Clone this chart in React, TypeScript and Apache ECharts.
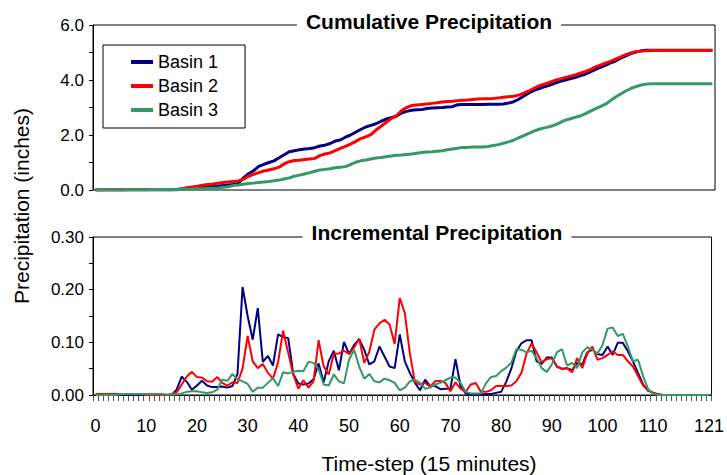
import React, { useEffect, useRef } from "react";
import * as echarts from "echarts";

// ---- data ----
const timeSteps: string[] = Array.from({ length: 122 }, (_, i) => String(i));
const xTickLabels: number[] = [0, 10, 20, 30, 40, 50, 60, 70, 80, 90, 100, 110, 121];
const seriesNames = ["Basin 1", "Basin 2", "Basin 3"];

const cumBasin1 = [
  0, 0, 0, 0, 0, 0, 0, 0, 0, 0, 0, 0, 0, 0, 0, 0,
  0.01, 0.04, 0.07, 0.08, 0.09, 0.11, 0.12, 0.13, 0.15, 0.16, 0.18, 0.2, 0.24, 0.44, 0.59, 0.7, 0.86, 0.93, 1.0, 1.06, 1.17, 1.28, 1.39, 1.43, 1.46,
  1.49, 1.51, 1.54, 1.6, 1.63, 1.69, 1.78, 1.82, 1.92, 2.0, 2.1, 2.2, 2.29, 2.35, 2.41, 2.5, 2.58, 2.63, 2.68, 2.8, 2.86, 2.9, 2.92, 2.93, 2.96, 2.98, 2.99, 3.0, 3.02, 3.03, 3.1, 3.11, 3.11, 3.11, 3.11, 3.11, 3.12, 3.12, 3.12, 3.13,
  3.16, 3.21, 3.3, 3.42, 3.53, 3.62, 3.69, 3.75, 3.81, 3.88, 3.94, 3.99, 4.04, 4.09, 4.15, 4.21, 4.29, 4.38, 4.46, 4.53, 4.62, 4.69, 4.79, 4.88, 4.96, 5.02, 5.06, 5.08, 5.08, 5.08,
  5.08, 5.08, 5.08, 5.08, 5.08, 5.08, 5.08, 5.08, 5.08, 5.08, 5.08,
];
const cumBasin2 = [
  0, 0, 0.01, 0.01, 0.01, 0.01, 0.01, 0.02, 0.02, 0.02, 0.02, 0.02, 0.02, 0.02, 0.02, 0.02,
  0.03, 0.05, 0.08, 0.11, 0.14, 0.17, 0.2, 0.22, 0.25, 0.27, 0.29, 0.31, 0.33, 0.39, 0.5, 0.57, 0.63, 0.69, 0.73, 0.77, 0.83, 0.95, 1.03, 1.07, 1.08,
  1.11, 1.13, 1.15, 1.25, 1.31, 1.35, 1.43, 1.51, 1.59, 1.67, 1.76, 1.87, 1.93, 2.01, 2.18, 2.32, 2.46, 2.6, 2.7, 2.88, 3.0, 3.07, 3.09, 3.11, 3.13, 3.15, 3.17, 3.2, 3.22, 3.23, 3.25, 3.26, 3.27, 3.29, 3.31, 3.32, 3.32, 3.33, 3.35, 3.37,
  3.39, 3.41, 3.45, 3.52, 3.6, 3.7, 3.79, 3.85, 3.91, 3.98, 4.03, 4.08, 4.13, 4.18, 4.25, 4.3, 4.38, 4.47, 4.54, 4.61, 4.68, 4.76, 4.84, 4.92, 4.98, 5.03, 5.05, 5.06, 5.07, 5.07,
  5.07, 5.07, 5.07, 5.07, 5.07, 5.07, 5.07, 5.07, 5.07, 5.07, 5.07,
];
const cumBasin3 = [
  0, 0, 0, 0, 0, 0, 0.01, 0.01, 0.01, 0.01, 0.01, 0.02, 0.02, 0.02, 0.02, 0.02,
  0.02, 0.03, 0.03, 0.04, 0.05, 0.05, 0.06, 0.06, 0.07, 0.1, 0.12, 0.16, 0.18, 0.21, 0.24, 0.25, 0.27, 0.29, 0.31, 0.34, 0.36, 0.4, 0.44, 0.5, 0.54,
  0.58, 0.63, 0.68, 0.73, 0.75, 0.77, 0.81, 0.83, 0.85, 0.92, 1.01, 1.06, 1.09, 1.13, 1.16, 1.18, 1.21, 1.24, 1.26, 1.27, 1.29, 1.31, 1.34, 1.36, 1.38, 1.39, 1.41, 1.43, 1.46, 1.49, 1.52, 1.55, 1.55, 1.56, 1.56, 1.56, 1.58, 1.62, 1.65, 1.7,
  1.75, 1.81, 1.9, 1.98, 2.06, 2.14, 2.21, 2.26, 2.3, 2.36, 2.44, 2.53, 2.58, 2.64, 2.69, 2.77, 2.86, 2.95, 3.03, 3.12, 3.25, 3.38, 3.49, 3.6, 3.69, 3.76, 3.82, 3.85, 3.86, 3.86,
  3.86, 3.86, 3.86, 3.86, 3.86, 3.86, 3.86, 3.86, 3.86, 3.86, 3.86,
];

const incBasin1 = [
  0, 0, 0, 0, 0, 0, 0, 0, 0, 0, 0, 0, 0, 0, 0, 0,
  0.01, 0.035, 0.025, 0.01, 0.018, 0.027, 0.018, 0.015, 0.015, 0.016, 0.014, 0.017, 0.04, 0.205, 0.15, 0.105, 0.165, 0.063, 0.074, 0.056, 0.115, 0.11, 0.108, 0.04, 0.022,
  0.02, 0.022, 0.03, 0.06, 0.024, 0.064, 0.084, 0.047, 0.101, 0.078, 0.095, 0.106, 0.086, 0.058, 0.064, 0.092, 0.073, 0.054, 0.051, 0.115, 0.064, 0.042, 0.023, 0.009, 0.029, 0.017, 0.017, 0.011, 0.012, 0.012, 0.068, 0.017, 0.003, 0.001, 0.001, 0.001, 0.002, 0.002, 0.004, 0.006,
  0.025, 0.05, 0.083, 0.098, 0.104, 0.104, 0.064, 0.059, 0.071, 0.071, 0.054, 0.05, 0.051, 0.047, 0.061, 0.058, 0.081, 0.086, 0.078, 0.076, 0.092, 0.076, 0.099, 0.099, 0.083, 0.064, 0.042, 0.02, 0.008, 0.004,
  0, 0, 0, 0, 0, 0, 0, 0, 0, 0, 0,
];
const incBasin2 = [
  0.002, 0.002, 0.002, 0.002, 0.002, 0.002, 0.002, 0.002, 0.002, 0.002, 0, 0, 0, 0, 0, 0.002,
  0.005, 0.02, 0.035, 0.044, 0.034, 0.033, 0.026, 0.025, 0.034, 0.023, 0.018, 0.024, 0.023, 0.05, 0.112, 0.064, 0.051, 0.059, 0.042, 0.031, 0.062, 0.122, 0.08, 0.039, 0.012,
  0.028, 0.014, 0.026, 0.104, 0.054, 0.039, 0.078, 0.079, 0.084, 0.078, 0.09, 0.107, 0.061, 0.082, 0.124, 0.136, 0.143, 0.134, 0.097, 0.184, 0.156, 0.079, 0.024, 0.02, 0.023, 0.016, 0.026, 0.027, 0.023, 0.007, 0.024, 0.012, 0.006, 0.02, 0.023, 0.006, 0.006, 0.009, 0.017, 0.017,
  0.017, 0.018, 0.026, 0.042, 0.078, 0.098, 0.081, 0.062, 0.068, 0.07, 0.054, 0.049, 0.051, 0.043, 0.07, 0.051, 0.079, 0.092, 0.067, 0.07, 0.076, 0.083, 0.076, 0.076, 0.064, 0.054, 0.036, 0.018, 0.009, 0.004, 0.002,
  0, 0, 0, 0, 0, 0, 0, 0, 0, 0,
];
const incBasin3 = [
  0, 0, 0, 0, 0, 0.002, 0.002, 0.002, 0.002, 0.002, 0.002, 0.002, 0.002, 0.002, 0.001, 0.001,
  0.001, 0.003, 0.006, 0.007, 0.007, 0.005, 0.004, 0.005, 0.01, 0.029, 0.027, 0.04, 0.03, 0.026, 0.021, 0.006, 0.014, 0.014, 0.023, 0.032, 0.017, 0.043, 0.041, 0.044, 0.046,
  0.045, 0.063, 0.061, 0.049, 0.02, 0.018, 0.039, 0.026, 0.022, 0.067, 0.086, 0.054, 0.031, 0.04, 0.026, 0.024, 0.031, 0.028, 0.023, 0.009, 0.014, 0.026, 0.029, 0.023, 0.012, 0.014, 0.02, 0.023, 0.028, 0.033, 0.033, 0.023, 0.006, 0.003, 0.003, 0.003, 0.022, 0.034, 0.036, 0.045,
  0.052, 0.061, 0.087, 0.086, 0.081, 0.084, 0.07, 0.051, 0.044, 0.058, 0.081, 0.087, 0.056, 0.061, 0.051, 0.081, 0.091, 0.086, 0.079, 0.095, 0.126, 0.128, 0.112, 0.116, 0.092, 0.064, 0.067, 0.036, 0.011, 0.002,
  0, 0, 0, 0, 0, 0, 0, 0, 0, 0, 0,
];

const colors = ["#000080", "#FF0000", "#339966"];
const FONT = "'Liberation Sans', Arial, sans-serif";

export default function App() {
  const ref = useRef<HTMLDivElement>(null);
  useEffect(() => {
    document.body.style.margin = "0";
    if (!ref.current) return;
    const chart = echarts.init(ref.current, undefined, { renderer: "svg" });
    const cum = [cumBasin1, cumBasin2, cumBasin3];
    const inc = [incBasin1, incBasin2, incBasin3];
    const option: any = {
      animation: false,
      textStyle: { fontFamily: FONT },
      legend: {
        data: seriesNames.map((n) => ({ name: n, icon: "rect" })),
        orient: "vertical",
        left: 103,
        top: 45,
        padding: [8, 27, 9, 28],
        itemWidth: 22,
        itemHeight: 4,
        itemGap: 6,
        backgroundColor: "#fff",
        borderColor: "#000",
        borderWidth: 1,
        borderRadius: 0,
        selectedMode: false,
        textStyle: { fontSize: 18, color: "#000", fontFamily: FONT, lineHeight: 14 },
        z: 10,
      },
      grid: [
        { left: 93, right: 12, top: 25, height: 165, show: true, borderColor: "#000", borderWidth: 1, backgroundColor: "transparent" },
        { left: 93, right: 12, top: 237, height: 158, show: true, borderColor: "#000", borderWidth: 1, backgroundColor: "transparent" },
      ],
      xAxis: [
        {
          type: "category", gridIndex: 0, data: timeSteps, boundaryGap: true,
          axisLine: { show: true, lineStyle: { color: "#808080", width: 1 } },
          axisTick: { show: false }, axisLabel: { show: false }, splitLine: { show: false },
        },
        {
          type: "category", gridIndex: 1, data: timeSteps, boundaryGap: true,
          axisLine: { show: true, lineStyle: { color: "#000", width: 1 } },
          axisTick: { show: true, interval: 0, length: 6, lineStyle: { color: "#555" } },
          axisLabel: {
            interval: (i: number) => xTickLabels.includes(i),
            fontSize: 18, color: "#000", margin: 22, fontFamily: FONT,
          },
          splitLine: { show: false },
        },
      ],
      yAxis: [
        {
          type: "value", gridIndex: 0, min: 0, max: 6, interval: 1,
          axisLine: { show: true, lineStyle: { color: "#000" } },
          axisTick: { show: true, length: 4, lineStyle: { color: "#000" } },
          axisLabel: {
            formatter: (v: number) => (Math.round(v) % 2 === 0 ? v.toFixed(1) : ""),
            fontSize: 17, color: "#000", margin: 9, fontFamily: FONT,
          },
          splitLine: { show: false },
        },
        {
          type: "value", gridIndex: 1, min: 0, max: 0.3, interval: 0.05,
          axisLine: { show: true, lineStyle: { color: "#000" } },
          axisTick: { show: true, length: 4, lineStyle: { color: "#000" } },
          axisLabel: {
            formatter: (v: number) => (Math.round(v * 100) % 10 === 0 ? v.toFixed(2) : ""),
            fontSize: 17, color: "#000", margin: 9, fontFamily: FONT,
          },
          splitLine: { show: false },
        },
      ],
      series: [
        ...seriesNames.map((n, k) => ({
          name: n, type: "line", xAxisIndex: 0, yAxisIndex: 0, data: cum[k],
          symbol: "none", showSymbol: false, color: colors[k],
          lineStyle: { color: colors[k], width: 3 }, z: 2,
        })),
        ...seriesNames.map((n, k) => ({
          name: n, type: "line", xAxisIndex: 1, yAxisIndex: 1, data: inc[k],
          symbol: "none", showSymbol: false, color: colors[k],
          lineStyle: { color: colors[k], width: 2 }, z: 2,
        })),
      ],
      graphic: [
        {
          type: "text", x: 429, y: 21, z: 100,
          style: {
            text: "Cumulative Precipitation", fontFamily: FONT, fontWeight: "bold", fontSize: 21,
            fill: "#000", align: "center", verticalAlign: "middle", backgroundColor: "#fff", padding: [0, 9],
          },
        },
        {
          type: "text", x: 437, y: 232, z: 100,
          style: {
            text: "Incremental Precipitation", fontFamily: FONT, fontWeight: "bold", fontSize: 21,
            fill: "#000", align: "center", verticalAlign: "middle", backgroundColor: "#fff", padding: [0, 9],
          },
        },
        {
          type: "text", x: 21, y: 206, rotation: Math.PI / 2, z: 100,
          style: {
            text: "Precipitation (inches)", fontFamily: FONT, fontSize: 21,
            fill: "#000", align: "center", verticalAlign: "middle",
          },
        },
        {
          type: "text", x: 429, y: 463, z: 100,
          style: {
            text: "Time-step (15 minutes)", fontFamily: FONT, fontSize: 21,
            fill: "#000", align: "center", verticalAlign: "middle",
          },
        },
      ],
    };
    chart.setOption(option);
    return () => chart.dispose();
  }, []);
  return <div ref={ref} style={{ width: 727, height: 475 }} />;
}
